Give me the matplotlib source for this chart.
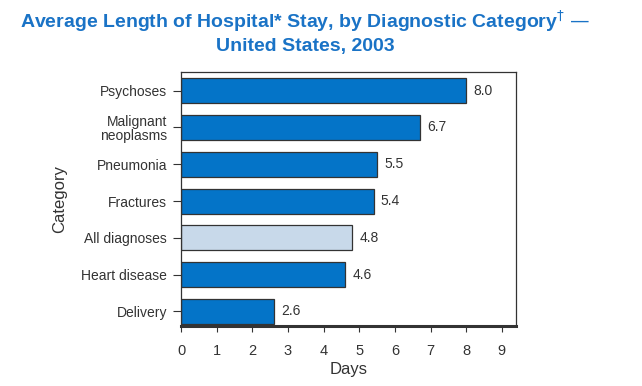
import numpy as np
import matplotlib.pyplot as plt

plt.rcParams['font.family'] = ['Liberation Sans', 'DejaVu Sans']

categories = ["Psychoses", "Malignant\nneoplasms", "Pneumonia", "Fractures",
              "All diagnoses", "Heart disease", "Delivery"]
days = [8.0, 6.7, 5.5, 5.4, 4.8, 4.6, 2.6]
highlight = "All diagnoses"

dark_blue = "#0474c8"
light_blue = "#c8d9ea"
colors = [light_blue if c == highlight else dark_blue for c in categories]

fig = plt.figure(figsize=(6.42, 3.86), dpi=100)
ax = fig.add_axes([0.282, 0.155, 0.522, 0.658])

y = np.arange(len(categories))
ax.barh(y, days, height=0.68, color=colors, edgecolor="#333333", linewidth=0.9)
for yi, v in zip(y, days):
    ax.text(v + 0.2, yi, f"{v:.1f}", va="center", ha="left", fontsize=10, color="#333333")

ax.set_yticks(y)
ax.set_yticklabels(categories, fontsize=10, color="#333333", linespacing=1.0)
ax.set_ylim(6.4, -0.5)
ax.set_xlim(0, 9.4)
ax.set_xticks(range(10))
ax.tick_params(axis="x", labelsize=10.5, colors="#333333", length=4, pad=9)
ax.tick_params(axis="y", length=6, colors="#333333", pad=4)
for s in ax.spines.values():
    s.set_color("#333333")
    s.set_linewidth(0.9)
ax.spines["bottom"].set_linewidth(2.2)

ax.set_xlabel("Days", fontsize=12, color="#333333", labelpad=3)
ax.set_ylabel("Category", fontsize=12, color="#333333", labelpad=10)

fig.text(0.475, 0.945, "Average Length of Hospital* Stay, by Diagnostic Category$^{\\dagger}$ \u2014",
         ha="center", va="center", fontsize=14, fontweight="bold", color="#1a73c6")
fig.text(0.475, 0.88, "United States, 2003", ha="center", va="center",
         fontsize=14, fontweight="bold", color="#1a73c6")

fig.savefig("out.png", dpi=100)
